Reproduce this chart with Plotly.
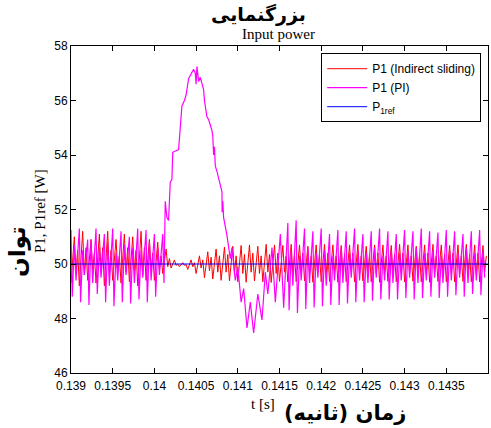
import plotly.graph_objects as go

# ---------------- data ----------------
period = 0.0001
t_start = 0.139

# P1 (PI): per-cycle values before the transient (cycles at 0.1390 .. 0.1400)
pi_pre_peak = [51.25, 51.3, 50.9, 51.3, 51.1, 51.3, 51.2, 51.0, 51.3, 51.25, 51.1]
pi_pre_trough = [48.8, 48.6, 48.5, 48.9, 48.6, 48.45, 48.6, 48.55, 48.7, 48.6, 48.8]
pi_pre_midhi = [50.7, 50.5, 50.9, 50.6, 50.8, 50.4, 50.7, 50.6, 50.5, 50.8, 50.6]
pi_pre_midlo = [49.4, 49.6, 49.3, 49.5, 49.2, 49.4, 49.6, 49.3, 49.5, 49.4, 49.6]

# P1 (PI): transient (hump and dip)
pi_tr_t = [0.14010, 0.140115, 0.14013, 0.14015, 0.14017, 0.14019, 0.14021, 0.14022,
           0.14029, 0.14031, 0.14033, 0.14036, 0.14038, 0.14041, 0.14044, 0.14047,
           0.14049, 0.14050, 0.14051, 0.14053, 0.14055, 0.14057, 0.14059, 0.14060,
           0.14061, 0.14063, 0.14065, 0.14067, 0.14069, 0.14070, 0.14071, 0.14072,
           0.14073, 0.14075, 0.14077, 0.14079, 0.14081, 0.140812, 0.14082, 0.14083,
           0.14085, 0.14087, 0.14091, 0.14093, 0.14097, 0.14100, 0.14104, 0.14107,
           0.14111, 0.14115, 0.14119, 0.14124, 0.14129, 0.14133, 0.14136, 0.14141,
           0.14145, 0.14151, 0.14155]
pi_tr_v = [51.1, 49.3, 52.3, 51.7, 51.6, 53.0, 53.1, 54.1,
           54.2, 55.0, 55.8, 56.0, 56.2, 56.8, 57.0, 57.15,
           57.0, 56.6, 57.25, 56.7, 56.85, 56.6, 56.4, 56.0,
           55.75, 55.4, 55.3, 55.1, 54.9, 54.7, 54.0, 54.3,
           53.6, 53.4, 53.15, 52.9, 52.65, 51.9, 52.3, 51.7,
           51.4, 51.05, 50.2, 50.6, 49.4, 49.9, 48.6, 49.1,
           47.65, 48.6, 47.47, 48.9, 47.95, 49.7, 48.9, 50.6,
           48.6, 51.1, 48.4]

# P1 (PI): per-cycle values after the transient (cycles at 0.1416 .. 0.1439)
pi_post_peak = [51.5, 51.6, 51.3, 51.2, 51.3, 51.1, 51.25, 51.2, 51.3, 51.1, 51.2, 51.3,
                51.2, 51.1, 51.25, 51.2, 51.3, 51.2, 51.15, 51.25, 51.2, 51.1, 51.2, 51.25]
pi_post_trough = [48.3, 48.2, 48.35, 48.4, 48.45, 48.5, 48.5, 48.55, 48.6, 48.6, 48.65, 48.7,
                  48.7, 48.7, 48.75, 48.7, 48.75, 48.8, 48.75, 48.8, 48.85, 48.8, 48.9, 48.85]
pi_post_midhi = [50.5, 50.3, 50.6, 50.4, 50.5, 50.3, 50.6, 50.4, 50.5, 50.4, 50.6, 50.3,
                 50.5, 50.4, 50.5, 50.6, 50.4, 50.5, 50.3, 50.5, 50.4, 50.6, 50.4, 50.5]
pi_post_midlo = [49.2, 49.4, 49.3, 49.5, 49.2, 49.4, 49.3, 49.5, 49.4, 49.3, 49.5, 49.4,
                 49.3, 49.4, 49.5, 49.3, 49.4, 49.5, 49.3, 49.4, 49.5, 49.3, 49.4, 49.5]
pi_post_start = 0.1416

# P1 (Indirect sliding): per-cycle values, 50 cycles from 0.1390
red_hi = [51.0, 51.2, 50.9, 51.1, 51.2, 50.9, 51.1, 51.0, 51.2, 50.9, 50.8,
          50.55, 50.15, 50.05, 50.15, 50.3, 50.45, 50.55, 50.62, 50.65,
          50.68, 50.7, 50.65, 50.72, 50.7, 50.68, 50.72, 50.7, 50.65, 50.7,
          50.72, 50.7, 50.68, 50.7, 50.72, 50.65, 50.7, 50.7, 50.68, 50.72,
          50.7, 50.65, 50.7, 50.72, 50.7, 50.68, 50.7, 50.72, 50.7, 50.68]
red_lo = [49.3, 49.2, 49.4, 49.3, 49.2, 49.4, 49.3, 49.35, 49.2, 49.4, 49.4,
          49.65, 49.85, 49.9, 49.8, 49.65, 49.5, 49.45, 49.4, 49.38,
          49.35, 49.33, 49.38, 49.35, 49.32, 49.36, 49.34, 49.35, 49.38, 49.33,
          49.35, 49.36, 49.33, 49.35, 49.34, 49.38, 49.35, 49.33, 49.36, 49.35,
          49.34, 49.37, 49.35, 49.33, 49.36, 49.35, 49.34, 49.36, 49.35, 49.34]
red_mhi = [50.5, 50.6, 50.4, 50.6, 50.5, 50.3, 50.6, 50.5, 50.6, 50.4, 50.3,
           50.2, 50.0, 49.98, 50.05, 50.15, 50.25, 50.3, 50.35, 50.3,
           50.35, 50.4, 50.3, 50.35, 50.4, 50.3, 50.35, 50.4, 50.3, 50.35,
           50.4, 50.3, 50.35, 50.4, 50.3, 50.35, 50.4, 50.3, 50.35, 50.4,
           50.3, 50.35, 50.4, 50.3, 50.35, 50.4, 50.3, 50.35, 50.4, 50.3]
red_mlo = [49.7, 49.6, 49.8, 49.7, 49.6, 49.8, 49.7, 49.75, 49.6, 49.8, 49.8,
           49.9, 49.95, 49.95, 49.9, 49.85, 49.75, 49.7, 49.7, 49.65,
           49.65, 49.7, 49.65, 49.7, 49.65, 49.7, 49.65, 49.7, 49.65, 49.7,
           49.65, 49.7, 49.65, 49.7, 49.65, 49.7, 49.65, 49.7, 49.65, 49.7,
           49.65, 49.7, 49.65, 49.7, 49.65, 49.7, 49.65, 49.7, 49.65, 49.7]

p_ref = [50.0, 50.0]
t_ref = [0.139, 0.144]

x_tickvals = [0.139, 0.1395, 0.140, 0.1405, 0.141, 0.1415, 0.142, 0.1425, 0.143, 0.1435]
x_ticktext = ["0.139", "0.1395", "0.14", "0.1405", "0.141", "0.1415", "0.142",
              "0.1425", "0.143", "0.1435"]
y_tickvals = [46, 48, 50, 52, 54, 56, 58]

# ---------------- build series ----------------
pi_t, pi_v = [], []
for k in range(len(pi_pre_peak)):
    t0 = t_start + k * period
    pi_t += [t0, t0 + 0.000015, t0 + 0.00004, t0 + 0.00006]
    pi_v += [pi_pre_peak[k], pi_pre_trough[k], pi_pre_midhi[k], pi_pre_midlo[k]]
pi_t += pi_tr_t
pi_v += pi_tr_v
for k in range(len(pi_post_peak)):
    t0 = pi_post_start + k * period
    pi_t += [t0, t0 + 0.000015, t0 + 0.00004, t0 + 0.00006]
    pi_v += [pi_post_peak[k], pi_post_trough[k], pi_post_midhi[k], pi_post_midlo[k]]

red_t, red_v = [], []
for k in range(len(red_hi)):
    t0 = t_start + k * period
    red_t += [t0, t0 + 0.00004, t0 + 0.00006, t0 + 0.00008]
    red_v += [red_lo[k], red_hi[k], red_mlo[k], red_mhi[k]]

fig = go.Figure()
fig.add_trace(go.Scatter(x=red_t, y=red_v, mode="lines", name="P1 (Indirect sliding)",
                         line=dict(color="#ff0000", width=1)))
fig.add_trace(go.Scatter(x=pi_t, y=pi_v, mode="lines", name="P1 (PI)",
                         line=dict(color="#ff00ff", width=1.2)))
fig.add_trace(go.Scatter(x=t_ref, y=p_ref, mode="lines", name="P<sub>1ref</sub>",
                         line=dict(color="#0000ff", width=1)))

axis_common = dict(showline=True, linecolor="black", linewidth=1, mirror="ticks",
                   ticks="inside", ticklen=5, tickcolor="black", showgrid=False,
                   zeroline=False, tickfont=dict(family="Liberation Sans, Arial", size=12, color="black"))

L, R, T, B = 71, 3, 46, 55
W, H = 491, 428
fig.update_layout(
    width=W, height=H,
    margin=dict(l=L, r=R, t=T, b=B, autoexpand=False),
    plot_bgcolor="white", paper_bgcolor="white",
    showlegend=True,
    legend=dict(x=0.6, y=0.978, xanchor="left", yanchor="top",
                bgcolor="white", bordercolor="black", borderwidth=1,
                font=dict(family="Liberation Sans, Arial", size=12, color="black"),
                tracegroupgap=0, itemwidth=40),
    xaxis=dict(range=[0.139, 0.144], tickvals=x_tickvals, ticktext=x_ticktext,
               ticklabelstandoff=2, **axis_common),
    yaxis=dict(range=[46, 58], tickvals=y_tickvals, **axis_common),
)

pw, ph = W - L - R, H - T - B
# (text, pixel x, pixel y from top, font, angle)
annotations = [
    ("<b>بزرگنمایی</b>", 258, 14, dict(family="DejaVu Sans", size=19, color="black"), 0),
    ("Input power", 278, 34, dict(family="Liberation Serif", size=15, color="black"), 0),
    ("t [s]", 263, 404, dict(family="Liberation Serif", size=15, color="black"), 0),
    ("<b>زمان (ثانیه)</b>", 345, 413, dict(family="DejaVu Sans", size=21, color="black"), 0),
    ("P1, P1ref [W]", 40, 211, dict(family="Liberation Serif", size=15, color="black"), -90),
    ("<b>توان</b>", 17, 252, dict(family="DejaVu Sans", size=23, color="black"), -90),
]
for text, px, py, font, ang in annotations:
    fig.add_annotation(xref="paper", yref="paper", showarrow=False,
                       x=(px - L) / pw, y=(H - B - py) / ph,
                       xanchor="center", yanchor="middle",
                       text=text, font=font, textangle=ang)

fig.write_html("out.html", post_script="document.body.style.margin='0';",
               config={"displayModeBar": False})
